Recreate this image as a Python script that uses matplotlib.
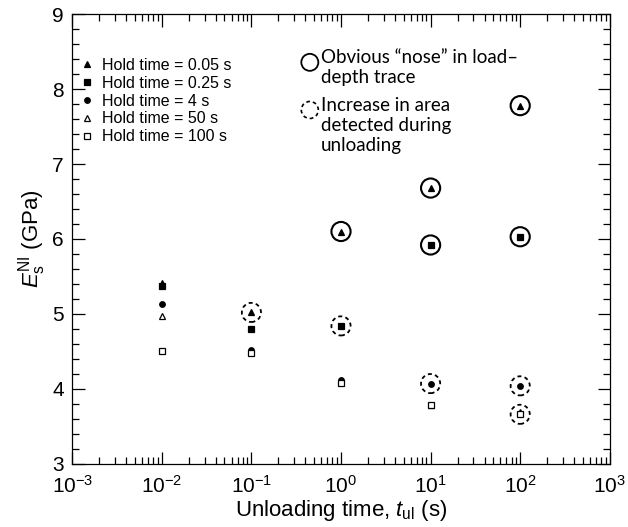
import matplotlib
matplotlib.use("Agg")
import matplotlib.pyplot as plt
from matplotlib.ticker import LogLocator, MultipleLocator, NullFormatter, FixedLocator

plt.rcParams['font.family'] = ['Liberation Sans', 'DejaVu Sans']
plt.rcParams['mathtext.fontset'] = 'custom'
plt.rcParams['mathtext.rm'] = 'Liberation Sans'
plt.rcParams['mathtext.it'] = 'Liberation Sans:italic'
plt.rcParams['axes.unicode_minus'] = False

# unloading time (s)
t_ul = [0.01, 0.1, 1, 10, 100]

# E_s^NI (GPa) for each hold time
e_005 = [5.41, 5.02, 6.10, 6.68, 7.78]
e_025 = [5.37, 4.80, 4.84, 5.92, 6.03]
e_4 = [5.13, 4.52, 4.12, 4.07, 4.04]
e_50 = [4.97, 4.50, 4.10, 3.78, 3.69]
e_100 = [4.51, 4.48, 4.08, 3.78, 3.66]

series = [e_005, e_025, e_4, e_50, e_100]
labels = ['Hold time = 0.05 s', 'Hold time = 0.25 s', 'Hold time = 4 s',
          'Hold time = 50 s', 'Hold time = 100 s']
markers = ['^', 's', 'o', '^', 's']
filled = [True, True, True, False, False]

# (series index, time index) of circled points
nose = [(0, 2), (0, 3), (1, 3), (0, 4), (1, 4)]
area = [(0, 1), (1, 2), (2, 3), (2, 4), (4, 4)]

# x tick exponents
decades = [-3, -2, -1, 0, 1, 2, 3]

fig = plt.figure(figsize=(6.28, 5.27), dpi=100)
ax = fig.add_axes([0.115, 0.12, 0.856, 0.853])

for s, lab, m, f in zip(series, labels, markers, filled):
    ax.plot(t_ul, s, linestyle='none', marker=m, markersize=5 if m != 'o' else 4,
            markerfacecolor='black' if f else 'white', markeredgecolor='black',
            markeredgewidth=0.9, label=lab)

ax.scatter([t_ul[j] for i, j in nose], [series[i][j] for i, j in nose],
           s=190, facecolors='none', edgecolors='black', linewidths=1.5, zorder=3)
ax.scatter([t_ul[j] for i, j in area], [series[i][j] for i, j in area],
           s=190, facecolors='none', edgecolors='black', linewidths=1.3,
           linestyles=(0, (2.2, 1.8)), zorder=3)

ax.set_xscale('log')
ax.set_xlim(1e-3, 1e3)
ax.set_ylim(3, 9)
ax.set_xticks([10.0 ** d for d in decades],
              [r'$\mathregular{10^{%d}}$' % d for d in decades])
minors = [m * 10.0 ** d for d in decades[:-1] for m in range(2, 10)]
ax.xaxis.set_minor_locator(FixedLocator(minors))
ax.xaxis.set_minor_formatter(NullFormatter())
ax.set_yticks(range(3, 10))
ax.yaxis.set_minor_locator(MultipleLocator(0.2))
ax.tick_params(which='both', direction='in', top=True, right=True, labelsize=15)
ax.tick_params(which='major', length=9, width=0.9)
ax.tick_params(which='minor', length=5, width=0.9)
ax.tick_params(axis='x', pad=8)
ax.tick_params(axis='y', pad=6)
for sp in ax.spines.values():
    sp.set_linewidth(0.9)

ax.set_xlabel(r'Unloading time, $\mathit{t}_{\rm ul}$ (s)', fontsize=16, labelpad=1)
ax.set_ylabel(r'$\mathit{E}_{\rm s}^{\rm NI}$ (GPa)', fontsize=16, labelpad=3)

ax.legend(loc='upper left', bbox_to_anchor=(-0.015, 0.935), frameon=False, fontsize=11.5,
          handlelength=1.0, handletextpad=0.5, labelspacing=0.18, borderaxespad=0.5)

# circle key
ax.scatter([0.442], [0.893], s=150, facecolors='none', edgecolors='black',
           linewidths=1.3, transform=ax.transAxes)
ax.scatter([0.442], [0.787], s=150, facecolors='none', edgecolors='black',
           linewidths=1.2, linestyles=(0, (2.2, 1.8)), transform=ax.transAxes)
ax.text(0.463, 0.922, 'Obvious \u201cnose\u201d in load\u2013\ndepth trace',
        transform=ax.transAxes, fontsize=13.5, family='Lato', va='top',
        ha='left', linespacing=1.2)
ax.text(0.463, 0.815, 'Increase in area\ndetected during\nunloading',
        transform=ax.transAxes, fontsize=13.5, family='Lato', va='top',
        ha='left', linespacing=1.2)

fig.savefig('out.png', dpi=100)
